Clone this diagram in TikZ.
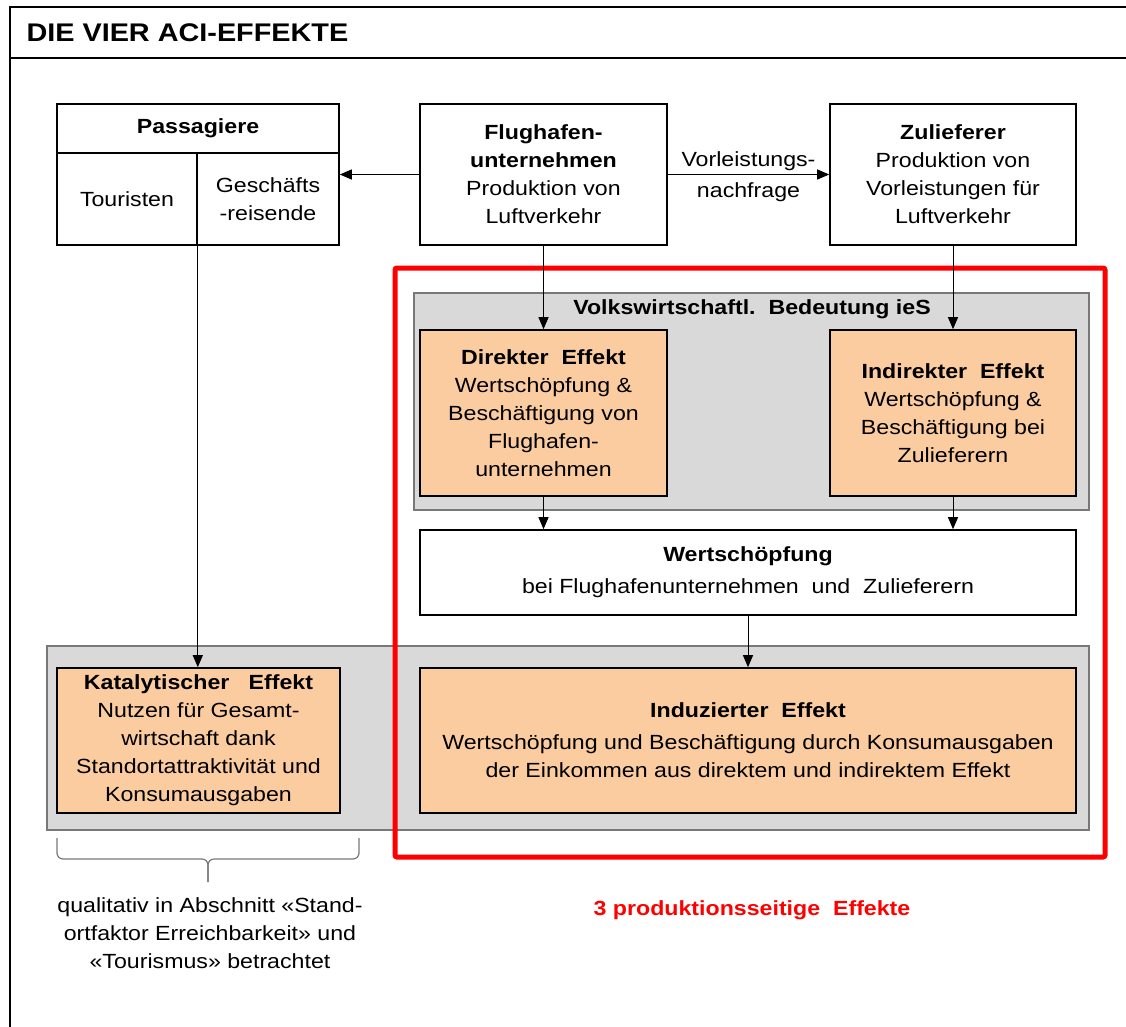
\documentclass[tikz,border=0pt]{standalone}
\usepackage{fontspec}
\setmainfont[FakeStretch=1.13]{Liberation Sans}
\usetikzlibrary{arrows.meta}
\definecolor{effektorange}{RGB}{251,204,160}
\definecolor{flaechegrau}{RGB}{217,217,217}
\definecolor{randgrau}{RGB}{120,120,120}

\begin{document}
\begin{tikzpicture}[x=1pt,y=-1pt,>={Triangle[length=12pt,width=10pt]},
		font=\fontsize{20.5}{28}\selectfont,
		plain box/.style={draw,line width=1.6pt,fill=white,align=center,inner sep=0pt},
		effect box/.style={plain box,fill=effektorange},
		group area/.style={draw=randgrau,line width=1.6pt,fill=flaechegrau},
		link/.style={->,line width=1pt}]
		\useasboundingbox (0,0) rectangle (1126,1027);
		% Rahmen und Titel
		\draw[line width=2.5pt] (10,1027) -- (10,7) -- (1126,7);
		\draw[line width=2.5pt] (10,58) -- (1126,58);
		\node[anchor=west,font=\fontsize{25.5}{28}\selectfont\bfseries] (titel) at (23,33) {DIE VIER ACI-EFFEKTE};
		% Flaechen
		\draw[group area] (414,293) rectangle (1089,510);
		\draw[group area] (47,646) rectangle (1089,830);
		\draw[red,line width=5pt,rounded corners=2pt] (395,268) rectangle (1105,857);
		% obere Reihe
		\node[plain box,minimum width=282pt,minimum height=49pt] (pas) at (198,128.5) {\textbf{Passagiere}};
		\node[plain box,minimum width=140pt,minimum height=92pt] (tou) at (127,199) {Touristen};
		\node[plain box,minimum width=142pt,minimum height=92pt] (ges) at (268,199) {Geschäfts\\-reisende};
		\node[plain box,minimum width=247pt,minimum height=141pt] (fh) at (543.5,174.5) {\textbf{Flughafen-}\\\textbf{unternehmen}\\Produktion von\\Luftverkehr};
		\node[plain box,minimum width=246pt,minimum height=141pt] (zl) at (953,174.5) {\textbf{Zulieferer}\\Produktion von\\Vorleistungen für\\Luftverkehr};
		% Effekte
		\node (ies) at (752,309) {\textbf{Volkswirtschaftl.\ \ Bedeutung ieS}};
		\node[effect box,minimum width=247pt,minimum height=166pt] (dir) at (543.5,413) {\textbf{Direkter\ \ Effekt}\\Wertschöpfung \&\\Beschäftigung von\\Flughafen-\\unternehmen};
		\node[effect box,minimum width=246pt,minimum height=166pt] (ind) at (953,413) {\textbf{Indirekter\ \ Effekt}\\Wertschöpfung \&\\Beschäftigung bei\\Zulieferern};
		\node[plain box,minimum width=656pt,minimum height=85pt] (ws) at (748,572.5) {\textbf{Wertschöpfung}\\[4pt]bei Flughafenunternehmen\ \ und\ \ Zulieferern};
		\node[effect box,minimum width=656pt,minimum height=145pt] (ize) at (748,740.5) {\textbf{Induzierter\ \ Effekt}\\[4pt]Wertschöpfung und Beschäftigung durch Konsumausgaben\\der Einkommen aus direktem und indirektem Effekt};
		\node[effect box,minimum width=283pt,minimum height=145pt] (kat) at (198.5,740.5) {\textbf{Katalytischer\ \ \ Effekt}\\Nutzen für Gesamt-\\wirtschaft dank\\Standortattraktivität und\\Konsumausgaben};
		% Klammer und Vermerke
		\coordinate (brL) at (57,838);
		\coordinate (brR) at (359,838);
		\coordinate (brM) at (208,859);
		\coordinate (brT) at (208,882);
		\draw[randgrau,line width=1.2pt,rounded corners=6pt] (brL) |- (brM) -- (brT);
		\draw[randgrau,line width=1.2pt,rounded corners=6pt] (brR) |- (brM) -- (brT);
		\node[align=center] (qual) at (210,933) {qualitativ in Abschnitt «Stand-\\ortfaktor Erreichbarkeit» und\\«Tourismus» betrachtet};
		\node[text=red] (prod) at (752,910) {\textbf{3 produktionsseitige\ \ Effekte}};
		% Pfeile
		\path[link]
		(fh.west) edge (fh.west -| ges.east)
		(fh.east) edge node[above,inner sep=3pt] {Vorleistungs-} node[below,inner sep=8pt] {nachfrage} (zl.west)
		(fh.south) edge (dir.north)
		(zl.south) edge (ind.north)
		(dir.south) edge (dir.south |- ws.north)
		(ind.south) edge (ind.south |- ws.north)
		(ws.south) edge (ize.north)
		(tou.south east) edge (tou.south east |- kat.north);
\end{tikzpicture}
\end{document}
